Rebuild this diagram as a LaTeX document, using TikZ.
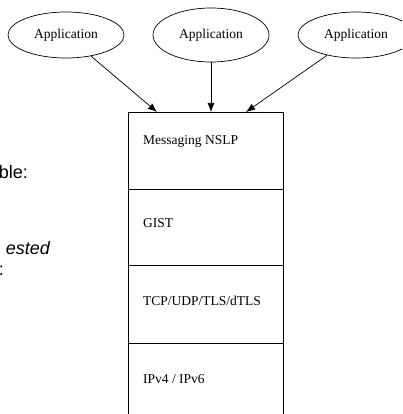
\documentclass[tikz,border=0pt]{standalone}
\usepackage{fontspec}
\setmainfont{Liberation Serif}
\newfontfamily\sansfont{Liberation Sans}
\usetikzlibrary{shapes.geometric,arrows.meta}
\begin{document}
\begin{tikzpicture}[x=1pt,y=-1pt,
  app/.style={draw,ellipse,line width=0.7pt,minimum width=116pt,minimum height=46pt,inner sep=0pt,font=\fontsize{13.5}{15}\selectfont},
  layer/.style={draw,rectangle,line width=0.8pt,minimum width=155pt,minimum height=#1,anchor=north west,inner sep=0pt},
  lbl/.style={anchor=base west,inner sep=0pt,font=\fontsize{13.5}{15}\selectfont},
  frag/.style={anchor=base east,inner sep=0pt,font=\sansfont\fontsize{18}{21}\selectfont},
  link/.style={-{Latex[length=9pt,width=7pt]},line width=0.7pt}]
\useasboundingbox (0,0) rectangle (402,414);
\clip (0,0) rectangle (402,414);

% applications on top
\node[app] (app1) at (66,35) {Application};
\node[app,minimum height=54pt] (app2) at (211,35) {Application};
\node[app] (app3) at (356,35) {Application};

% protocol stack
\node[layer=77pt] (s1) at (128,112) {};
\node[layer=76pt] (s2) at (128,189) {};
\node[layer=78pt] (s3) at (128,265) {};
\node[layer=80pt] (s4) at (128,343) {};
\node[lbl] (t1) at (143,145) {Messaging NSLP};
\node[lbl] (t2) at (143,227) {GIST};
\node[lbl] (t3) at (143,305) {TCP/UDP/TLS/dTLS};
\node[lbl] (t4) at (143,383) {IPv4 / IPv6};

% entry points on the stack top
\coordinate (in1) at (157,112);
\coordinate (in2) at (211,112);
\coordinate (in3) at (246,112);
\draw[link] (app1) -- (in1);
\draw[link] (app2) -- (in2);
\draw[link] (app3) -- (in3);

% surrounding text
\node[frag] (f1) at (28,178) {ble:};
\node[frag] (f2) at (50,254) {\itshape ested};
\node[frag] (f3) at (4,275) {:};
\end{tikzpicture}
\end{document}
